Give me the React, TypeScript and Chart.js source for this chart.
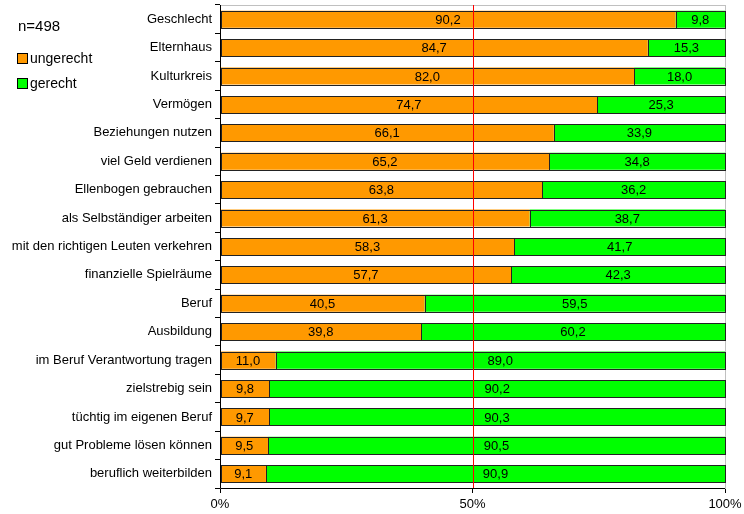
import React, { useEffect, useRef } from "react";
import { Chart, registerables } from "chart.js";

Chart.register(...registerables);

const categories = [
  "Geschlecht",
  "Elternhaus",
  "Kulturkreis",
  "Vermögen",
  "Beziehungen nutzen",
  "viel Geld verdienen",
  "Ellenbogen gebrauchen",
  "als Selbständiger arbeiten",
  "mit den richtigen Leuten verkehren",
  "finanzielle Spielräume",
  "Beruf",
  "Ausbildung",
  "im Beruf Verantwortung tragen",
  "zielstrebig sein",
  "tüchtig im eigenen Beruf",
  "gut Probleme lösen können",
  "beruflich weiterbilden",
];

const ungerecht = [90.2, 84.7, 82.0, 74.7, 66.1, 65.2, 63.8, 61.3, 58.3, 57.7, 40.5, 39.8, 11.0, 9.8, 9.7, 9.5, 9.1];
const gerecht = [9.8, 15.3, 18.0, 25.3, 33.9, 34.8, 36.2, 38.7, 41.7, 42.3, 59.5, 60.2, 89.0, 90.2, 90.3, 90.5, 90.9];

const seriesNames = ["ungerecht", "gerecht"];
const seriesColors = ["#FF9900", "#00FF00"];
const sampleNote = "n=498";
const xTicks = [0, 50, 100];
const referenceValue = 50;

const FONT = "Arial, 'Liberation Sans', sans-serif";

// Plot frame drawn behind the bars
const framePlugin = {
  id: "frame",
  beforeDatasetsDraw(chart: any) {
    const { ctx, chartArea: a } = chart;
    ctx.save();
    ctx.strokeStyle = "#C0C0C0";
    ctx.lineWidth = 1;
    ctx.strokeRect(Math.round(a.left) + 0.5, Math.round(a.top) + 0.5, Math.round(a.right - a.left), Math.round(a.bottom - a.top));
    ctx.restore();
  },
};

// Crisp outlines for each bar segment, then the axes, the 50 % line and the values
const overlayPlugin = {
  id: "overlay",
  afterDatasetsDraw(chart: any) {
    const { ctx, chartArea: a, scales } = chart;
    ctx.save();
    ctx.lineWidth = 1;
    ctx.strokeStyle = "#222222";
    chart.data.datasets.forEach((_ds: any, di: number) => {
      const meta = chart.getDatasetMeta(di);
      meta.data.forEach((bar: any) => {
        const l = Math.round(Math.min(bar.base, bar.x));
        const r = Math.round(Math.max(bar.base, bar.x));
        const t = Math.round(bar.y - bar.height / 2);
        const b = Math.round(bar.y + bar.height / 2);
        ctx.strokeRect(l + 0.5, t + 0.5, r - l, b - t);
      });
    });

    const x = Math.round(scales.x.getPixelForValue(referenceValue)) + 0.5;
    ctx.strokeStyle = "#FF0000";
    ctx.beginPath();
    ctx.moveTo(x, a.top);
    ctx.lineTo(x, a.bottom);
    ctx.stroke();

    ctx.strokeStyle = "#000000";
    ctx.beginPath();
    const l = Math.round(a.left) + 0.5;
    const b = Math.round(a.bottom) + 0.5;
    ctx.moveTo(l, a.top);
    ctx.lineTo(l, b);
    ctx.lineTo(a.right, b);
    ctx.stroke();

    ctx.font = `13px ${FONT}`;
    ctx.fillStyle = "#000";
    ctx.textAlign = "center";
    ctx.textBaseline = "middle";
    chart.data.datasets.forEach((ds: any, di: number) => {
      const meta = chart.getDatasetMeta(di);
      meta.data.forEach((bar: any, i: number) => {
        const v = ds.data[i] as number;
        const cx = (bar.x + bar.base) / 2;
        ctx.fillText(v.toFixed(1).replace(".", ","), cx, bar.y + 1);
      });
    });
    ctx.restore();
  },
};

// Sample size and legend at the upper left
const legendPlugin = {
  id: "sideLegend",
  afterDraw(chart: any) {
    const { ctx } = chart;
    ctx.save();
    ctx.fillStyle = "#000";
    ctx.textAlign = "left";
    ctx.textBaseline = "middle";
    ctx.font = `15px ${FONT}`;
    ctx.fillText(sampleNote, 18, 27);
    ctx.font = `14px ${FONT}`;
    seriesNames.forEach((name, i) => {
      const y = 58 + i * 25;
      ctx.fillStyle = seriesColors[i];
      ctx.fillRect(18, y - 4, 9, 9);
      ctx.strokeStyle = "#000";
      ctx.lineWidth = 1;
      ctx.strokeRect(17.5, y - 4.5, 10, 10);
      ctx.fillStyle = "#000";
      ctx.fillText(name, 30, y + 1);
    });
    ctx.restore();
  },
};

export default function App() {
  const ref = useRef<HTMLCanvasElement>(null);

  useEffect(() => {
    if (!ref.current) return;
    const chart = new Chart(ref.current, {
      type: "bar",
      data: {
        labels: categories,
        datasets: [
          {
            label: seriesNames[0],
            data: ungerecht,
            backgroundColor: seriesColors[0],
            borderWidth: 0,
          },
          {
            label: seriesNames[1],
            data: gerecht,
            backgroundColor: seriesColors[1],
            borderWidth: 0,
          },
        ],
      },
      options: {
        indexAxis: "y",
        animation: false,
        responsive: false,
        maintainAspectRatio: false,
        categoryPercentage: 1,
        barPercentage: 0.6,
        layout: { padding: { top: 5, right: 19, left: 0, bottom: 0 } },
        plugins: {
          legend: { display: false },
          tooltip: { enabled: false },
        },
        scales: {
          x: {
            stacked: true,
            min: 0,
            max: 100,
            afterBuildTicks: (s: any) => {
              s.ticks = xTicks.map((v) => ({ value: v }));
            },
            afterFit: (s: any) => {
              s.height = 26;
              s.paddingLeft = 0;
              s.paddingRight = 0;
            },
            border: { display: false },
            grid: {
              drawOnChartArea: false,
              drawTicks: true,
              tickLength: 5,
              color: "#000",
            },
            ticks: {
              font: { family: FONT, size: 13 },
              color: "#000",
              padding: 4,
              maxRotation: 0,
              callback: (v: any) => `${v}%`,
            },
          },
          y: {
            stacked: true,
            afterFit: (s: any) => {
              s.width = 220;
              s.paddingTop = 0;
              s.paddingBottom = 0;
            },
            border: { display: false },
            grid: {
              offset: true,
              drawOnChartArea: false,
              drawTicks: true,
              tickLength: 5,
              color: "#000",
            },
            ticks: {
              font: { family: FONT, size: 13 },
              color: "#000",
              padding: 3,
              autoSkip: false,
            },
          },
        },
      },
      plugins: [framePlugin, overlayPlugin, legendPlugin],
    });
    return () => chart.destroy();
  }, []);

  return (
    <div style={{ position: "fixed", left: 0, top: 0, width: 744, height: 514, background: "#fff" }}>
      <canvas ref={ref} width={744} height={514} style={{ width: 744, height: 514 }} />
    </div>
  );
}
